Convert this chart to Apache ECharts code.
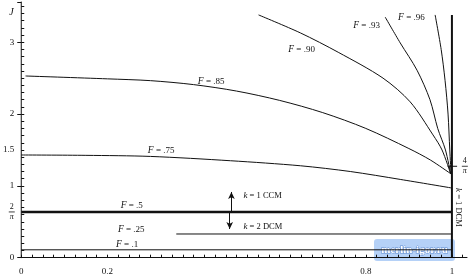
<!DOCTYPE html>
<html><head><meta charset="utf-8">
<script src="https://cdn.jsdelivr.net/npm/echarts@6/dist/echarts.min.js"></script>
<style>html,body{margin:0;padding:0;background:#fff}#c{width:470px;height:278px}</style>
</head><body><div id="c"></div>
<script>
// ---- data (M on x, J on y) ----
const xTickLabels = [0, 0.2, 0.8, 1];
const yTickLabels = [0, 1, 1.5, 2, 3];
const seriesNames = ['F = .1', 'F = .25', 'F = .5', 'F = .75', 'F = .85', 'F = .90', 'F = .93', 'F = .96', 'F = 1'];
const f10 = [[0, 0.11], [1, 0.11]];
const f25 = [[0.36, 0.33], [1, 0.33]];
const f50 = [[0, 0.637], [1, 0.637]];
const f75 = [[0, 1.43], [0.15, 1.425], [0.30, 1.41], [0.486, 1.35], [0.648, 1.28], [0.764, 1.20], [0.88, 1.09], [1, 0.97]];
const f85 = [[0.01, 2.53], [0.2, 2.49], [0.3, 2.465], [0.4, 2.41], [0.5, 2.32], [0.6, 2.19], [0.7, 2.02], [0.8, 1.80], [0.9, 1.52], [0.95, 1.36], [0.997, 1.17]];
const f90 = [[0.551, 3.38], [0.648, 3.13], [0.736, 2.86], [0.84, 2.50], [0.903, 2.17], [0.956, 1.71], [0.977, 1.50], [0.997, 1.17]];
const f93 = [[0.845, 3.35], [0.88, 2.99], [0.919, 2.61], [0.949, 2.20], [0.967, 1.80], [0.985, 1.50], [0.997, 1.17]];
const f96 = [[0.961, 3.38], [0.975, 2.90], [0.984, 2.47], [0.991, 2.00], [0.995, 1.50], [0.998, 1.17]];
const f100 = [[1, 0], [1, 3.38]];
const kArrowUp = [[0.488, 0.637], [0.488, 0.915]];
const kArrowDown = [[0.484, 0.637], [0.484, 0.40]];

const FONT = 'Liberation Serif';
const INK = '#111';
const chart = echarts.init(document.getElementById('c'), null, {renderer: 'canvas'});

function line(name, data, width, smooth) {
  return {
    name: name, type: 'line', data: data, showSymbol: false, symbol: 'none',
    smooth: smooth ? 0.3 : false, animation: false, silent: true,
    lineStyle: {color: INK, width: width}
  };
}

const series = [
  line(seriesNames[0], f10, 1),
  line(seriesNames[1], f25, 1),
  Object.assign(line(seriesNames[2], f50, 2.5), {
    markLine: {
      silent: true, animation: false, symbol: ['none', 'arrow'], symbolSize: [5, 7],
      label: {show: false},
      lineStyle: {color: INK, width: 1, type: 'solid'},
      data: [
        [{coord: kArrowUp[0]}, {coord: kArrowUp[1]}],
        [{coord: kArrowDown[0]}, {coord: kArrowDown[1]}]
      ]
    }
  }),
  line(seriesNames[3], f75, 1, true),
  line(seriesNames[4], f85, 1, true),
  line(seriesNames[5], f90, 1, true),
  line(seriesNames[6], f93, 1, true),
  line(seriesNames[7], f96, 1, true),
  line(seriesNames[8], f100, 2)
];

chart.setOption({
  backgroundColor: '#fff',
  animation: false,
  grid: {left: 20, right: 3, top: 2, bottom: 20.3, containLabel: false},
  xAxis: {
    type: 'value', min: 0, max: 1.035, interval: 0.025,
    axisLine: {show: true, lineStyle: {color: INK, width: 1}},
    axisTick: {show: true, inside: true, length: 3, lineStyle: {color: INK}},
    splitLine: {show: false},
    axisLabel: {
      margin: 9, color: INK, fontFamily: FONT, fontSize: 9, showMaxLabel: false,
      formatter: function (v) {
        const r = Math.round(v * 1000) / 1000;
        return xTickLabels.indexOf(r) >= 0 ? String(r) : '';
      }
    }
  },
  yAxis: [{
    type: 'value', min: 0, max: 3.56, interval: 0.1,
    axisLine: {show: true, lineStyle: {color: INK, width: 1}},
    axisTick: {show: true, inside: true, length: 3, lineStyle: {color: INK}},
    splitLine: {show: false},
    axisLabel: {
      margin: 7, color: INK, fontFamily: FONT, fontSize: 9, showMaxLabel: false,
      formatter: function (v) {
        const r = Math.round(v * 10) / 10;
        return yTickLabels.indexOf(r) >= 0 ? String(r) : '';
      }
    }
  }, {
    type: 'value', min: 0, max: 3.56, interval: 1, position: 'left',
    axisLine: {show: false}, splitLine: {show: false}, axisLabel: {show: false},
    axisTick: {show: true, inside: false, length: 4, lineStyle: {color: INK}}
  }],
  series: series
});

function px(m, j) { return chart.convertToPixel({gridIndex: 0}, [m, j]); }

const g = [];
function fLabel(text, m, j) {
  const p = px(m, j);
  g.push({
    type: 'text', x: p[0], y: p[1], silent: true,
    style: {
      text: '{i|F}' + text, fill: INK, verticalAlign: 'middle', align: 'left',
      font: '9px ' + FONT,
      rich: {i: {fontStyle: 'italic', fontFamily: FONT, fontSize: 9.5, fill: INK}}
    }
  });
}
fLabel(' = .1', 0.22, 0.177);
fLabel(' = .25', 0.2245, 0.386);
fLabel(' = .5', 0.231, 0.72);
fLabel(' = .75', 0.294, 1.486);
fLabel(' = .85', 0.41, 2.447);
fLabel(' = .90', 0.62, 2.893);
fLabel(' = .93', 0.771, 3.227);
fLabel(' = .96', 0.875, 3.338);

function kLabel(text, m, j) {
  const p = px(m, j);
  g.push({
    type: 'text', x: p[0], y: p[1], silent: true,
    style: {
      text: '{i|k}' + text, fill: INK, verticalAlign: 'middle', align: 'left',
      font: '8.5px ' + FONT,
      rich: {i: {fontStyle: 'italic', fontFamily: FONT, fontSize: 9, fill: INK}}
    }
  });
}
kLabel(' = 1 CCM', 0.516, 0.859);
kLabel(' = 2 DCM', 0.516, 0.428);

// y-axis name J
(function () {
  const p = px(-0.023, 3.42);
  g.push({type: 'text', x: p[0], y: p[1], silent: true,
    style: {text: 'J', fill: INK, font: 'italic 10px ' + FONT, align: 'center', verticalAlign: 'middle'}});
})();

function fraction(num, den, m, j) {
  const p = px(m, j);
  g.push({type: 'text', x: p[0], y: p[1] - 5, silent: true,
    style: {text: num, fill: INK, font: '8px ' + FONT, align: 'center', verticalAlign: 'middle'}});
  g.push({type: 'line', silent: true, shape: {x1: p[0] - 3, y1: p[1], x2: p[0] + 3, y2: p[1]},
    style: {stroke: INK, lineWidth: 0.8}});
  g.push({type: 'text', x: p[0], y: p[1] + 5, silent: true,
    style: {text: den, fill: INK, font: 'italic 8px ' + FONT, align: 'center', verticalAlign: 'middle'}});
}
fraction('2', 'π', -0.022, 0.637);
fraction('4', 'π', 1.03, 1.273);

// tick at 4/pi on the M = 1 line
(function () {
  const a = px(0.99, 1.273), b = px(1.012, 1.273);
  g.push({type: 'line', silent: true, shape: {x1: a[0], y1: a[1], x2: b[0], y2: b[1]},
    style: {stroke: INK, lineWidth: 1}});
})();

// k = 1 DCM (vertical)
(function () {
  const p = px(1.0145, 0.70);
  g.push({type: 'text', x: p[0], y: p[1], rotation: -Math.PI / 2, silent: true,
    style: {text: '{i|k} = 1 DCM', fill: INK, font: '8.5px ' + FONT, align: 'center', verticalAlign: 'middle',
      rich: {i: {fontStyle: 'italic', fontFamily: FONT, fontSize: 9, fill: INK}}}});
})();

// watermark
g.push({type: 'rect', silent: true, shape: {x: 374, y: 239, width: 81, height: 22, r: 3},
  style: {fill: 'rgba(120,172,240,0.55)'}});
g.push({type: 'text', silent: true, x: 414.5, y: 250,
  style: {text: 'merlin-igor.ru', fill: '#fff', font: 'bold 11px ' + FONT, align: 'center', verticalAlign: 'middle',
    stroke: 'rgba(60,110,190,0.7)', lineWidth: 0.8}});

chart.setOption({graphic: {elements: g}});
</script>
</body></html>
